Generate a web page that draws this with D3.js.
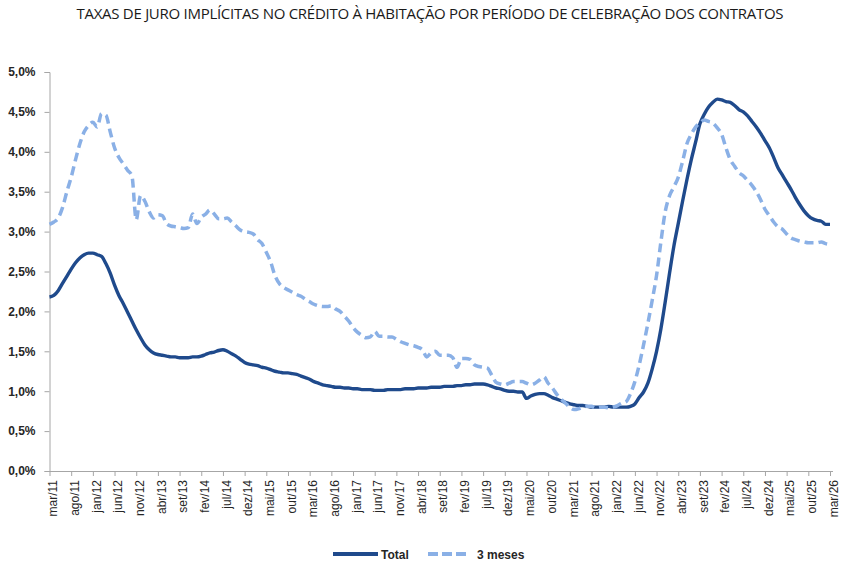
<!DOCTYPE html>
<html>
<head>
<meta charset="utf-8">
<script src="https://cdn.jsdelivr.net/npm/d3@7"></script>
<style>
  html, body { margin: 0; padding: 0; background: #ffffff; }
  svg { display: block; }
</style>
</head>
<body>
<svg id="chart" width="844" height="569"></svg>
<script>
// ---------- DATA ----------
const title = "TAXAS DE JURO IMPLÍCITAS NO CRÉDITO À HABITAÇÃO POR PERÍODO DE CELEBRAÇÃO DOS CONTRATOS";
const monthNames = ["jan","fev","mar","abr","mai","jun","jul","ago","set","out","nov","dez"];
const startYear = 2011, startMonth = 2, monthCount = 181; // mar/11 .. mar/26
const seriesNames = ["Total", "3 meses"];
const tickLabels = ["mar/11","ago/11","jan/12","jun/12","nov/12","abr/13","set/13","fev/14","jul/14","dez/14",
  "mai/15","out/15","mar/16","ago/16","jan/17","jun/17","nov/17","abr/18","set/18","fev/19","jul/19","dez/19",
  "mai/20","out/20","mar/21","ago/21","jan/22","jun/22","nov/22","abr/23","set/23","fev/24","jul/24","dez/24",
  "mai/25","out/25","mar/26"];
const yTicks = [0, 0.5, 1.0, 1.5, 2.0, 2.5, 3.0, 3.5, 4.0, 4.5, 5.0];

const total = [
  2.18,2.20,2.26,2.35,2.44,2.53,2.61,2.67,2.71,2.73,
  2.73,2.71,2.69,2.60,2.48,2.33,2.20,2.10,1.99,1.88,
  1.77,1.67,1.58,1.52,1.48,1.46,1.45,1.44,1.43,1.43,
  1.42,1.42,1.42,1.43,1.43,1.44,1.46,1.48,1.49,1.51,
  1.52,1.50,1.47,1.44,1.40,1.36,1.34,1.33,1.32,1.30,
  1.29,1.27,1.25,1.24,1.23,1.23,1.22,1.21,1.19,1.17,
  1.15,1.12,1.10,1.08,1.07,1.06,1.05,1.05,1.04,1.04,
  1.03,1.03,1.02,1.02,1.02,1.01,1.01,1.01,1.02,1.02,
  1.02,1.02,1.03,1.03,1.03,1.04,1.04,1.04,1.05,1.05,
  1.05,1.06,1.06,1.06,1.07,1.07,1.08,1.08,1.09,1.09,
  1.09,1.08,1.06,1.04,1.03,1.01,1.00,1.00,0.99,0.99,
  0.91,0.94,0.96,0.97,0.97,0.95,0.92,0.90,0.88,0.86,
  0.84,0.83,0.82,0.82,0.81,0.80,0.80,0.80,0.80,0.81,
  0.80,0.80,0.80,0.80,0.81,0.84,0.92,0.99,1.10,1.28,
  1.50,1.78,2.12,2.48,2.82,3.10,3.38,3.65,3.90,4.12,
  4.35,4.47,4.56,4.62,4.66,4.65,4.63,4.62,4.58,4.53,
  4.50,4.45,4.38,4.31,4.23,4.14,4.05,3.93,3.80,3.71,
  3.62,3.53,3.43,3.34,3.26,3.20,3.16,3.14,3.13,3.09,
  3.09
];

const threeMonths = [
  3.09,3.12,3.17,3.30,3.50,3.68,3.90,4.10,4.25,4.33,
  4.37,4.31,4.48,4.46,4.25,4.05,3.93,3.85,3.77,3.70,
  3.15,3.45,3.38,3.25,3.17,3.21,3.20,3.10,3.07,3.06,
  3.05,3.04,3.05,3.22,3.10,3.18,3.22,3.27,3.22,3.16,
  3.16,3.17,3.12,3.07,3.02,3.00,2.99,2.97,2.90,2.85,
  2.74,2.62,2.45,2.35,2.30,2.27,2.24,2.21,2.19,2.15,
  2.12,2.09,2.07,2.06,2.06,2.07,2.03,2.00,1.94,1.88,
  1.80,1.74,1.70,1.67,1.68,1.75,1.69,1.69,1.68,1.68,
  1.65,1.62,1.60,1.58,1.57,1.55,1.52,1.43,1.48,1.50,
  1.45,1.45,1.45,1.42,1.30,1.41,1.41,1.40,1.33,1.31,
  1.30,1.29,1.20,1.11,1.09,1.08,1.10,1.12,1.12,1.12,
  1.10,1.08,1.10,1.14,1.18,1.10,1.04,0.96,0.90,0.85,
  0.80,0.77,0.78,0.80,0.81,0.81,0.79,0.80,0.80,0.79,
  0.80,0.82,0.85,0.87,0.97,1.12,1.33,1.58,1.85,2.14,
  2.45,2.87,3.25,3.45,3.56,3.68,3.88,4.10,4.22,4.31,
  4.36,4.40,4.38,4.36,4.30,4.22,4.05,3.90,3.82,3.74,
  3.70,3.64,3.58,3.50,3.40,3.28,3.20,3.12,3.06,3.03,
  2.97,2.92,2.90,2.88,2.87,2.86,2.86,2.86,2.87,2.85,
  2.84
];

// month categories
const months = d3.range(monthCount).map(i => {
  const m = (startMonth + i) % 12;
  const yr = startYear + Math.floor((startMonth + i) / 12);
  return monthNames[m] + "/" + String(yr).slice(2);
});

// ---------- LAYOUT ----------
const svg = d3.select("#chart");
const plotLeft = 49.5, plotRight = 830, plotTop = 72, plotBottom = 471;
const axisColor = "#a6a6a6";
const textColor = "#262626";
const colTotal = "#1f4a8c";
const col3m = "#8ab0e6";

const x = d3.scalePoint().domain(months).range([plotLeft, plotRight]);
const y = d3.scaleLinear().domain([0, 5]).range([plotBottom, plotTop]);

// title
svg.append("text")
  .attr("x", 430).attr("y", 19)
  .attr("text-anchor", "middle")
  .attr("textLength", 707)
  .attr("font-family", "'Liberation Sans Narrow', 'Open Sans', 'Liberation Sans', sans-serif")
  .attr("font-size", 15)
  .attr("fill", "#1a1a1a")
  .text(title);

// y axis
const yAxis = d3.axisLeft(y).tickValues(yTicks).tickSize(5).tickPadding(9)
  .tickFormat(d => d3.format(".1f")(d).replace(".", ",") + "%");
const gy = svg.append("g").attr("transform", `translate(${plotLeft},0)`).call(yAxis);
gy.select(".domain").attr("stroke", axisColor);
gy.selectAll(".tick line").attr("stroke", axisColor);
gy.selectAll(".tick text")
  .attr("font-family", "'Liberation Sans', Arial, sans-serif")
  .attr("font-size", 12).attr("font-weight", "bold").attr("fill", textColor);

// x axis
const xAxis = d3.axisBottom(x).tickValues(tickLabels).tickSize(5).tickSizeOuter(0);
const gx = svg.append("g").attr("transform", `translate(0,${plotBottom})`).call(xAxis);
gx.select(".domain").attr("stroke", axisColor).attr("d", `M${plotLeft},0.5H${plotRight + 3}`);
gx.selectAll(".tick line").attr("stroke", axisColor);
gx.selectAll(".tick text")
  .attr("font-family", "'Liberation Sans', Arial, sans-serif")
  .attr("font-size", 12).attr("fill", textColor)
  .attr("text-anchor", "end")
  .attr("transform", "translate(3,9) rotate(-90)")
  .attr("x", 0).attr("y", 0).attr("dy", "0.35em");

// lines
const line = d3.line().x((d, i) => x(months[i])).y(d => y(d)).curve(d3.curveMonotoneX);

svg.append("path").datum(total)
  .attr("d", line).attr("fill", "none")
  .attr("stroke", colTotal).attr("stroke-width", 3.4)
  .attr("stroke-linejoin", "round");

svg.append("path").datum(threeMonths)
  .attr("d", line).attr("fill", "none")
  .attr("stroke", col3m).attr("stroke-width", 3.5)
  .attr("stroke-dasharray", "9,5")
  .attr("stroke-linejoin", "round");

// legend
const lg = svg.append("g").attr("font-family", "'Liberation Sans', Arial, sans-serif")
  .attr("font-size", 12).attr("font-weight", "bold").attr("fill", textColor);
lg.append("line").attr("x1", 333).attr("x2", 378).attr("y1", 554).attr("y2", 554)
  .attr("stroke", colTotal).attr("stroke-width", 4);
lg.append("text").attr("x", 381).attr("y", 558.5).text(seriesNames[0]);
lg.append("line").attr("x1", 428).attr("x2", 469).attr("y1", 554).attr("y2", 554)
  .attr("stroke", col3m).attr("stroke-width", 4).attr("stroke-dasharray", "10,4");
lg.append("text").attr("x", 477).attr("y", 558.5).text(seriesNames[1]);
</script>
</body>
</html>
